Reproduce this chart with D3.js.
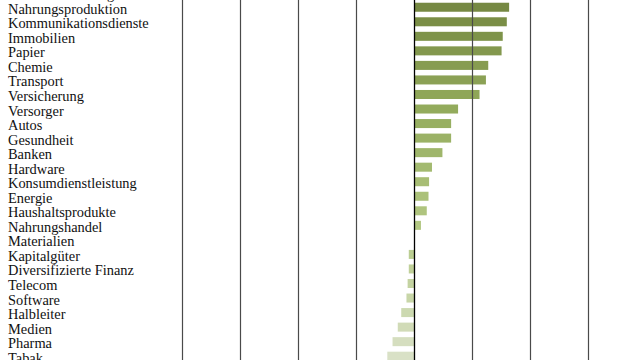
<!DOCTYPE html>
<html><head><meta charset="utf-8">
<script src="https://cdn.jsdelivr.net/npm/d3@7"></script>
<style>html,body{margin:0;padding:0;background:#fff;overflow:hidden}</style>
</head><body>
<svg id="c" width="640" height="360"></svg>
<script>
const categories = ["Freizeitausrüstung","Nahrungsproduktion","Kommunikationsdienste","Immobilien","Papier","Chemie","Transport","Versicherung","Versorger","Autos","Gesundheit","Banken","Hardware","Konsumdienstleistung","Energie","Haushaltsprodukte","Nahrungshandel","Materialien","Kapitalgüter","Diversifizierte Finanz","Telecom","Software","Halbleiter","Medien","Pharma","Tabak"];
const values = [1.70,1.64,1.60,1.53,1.51,1.28,1.24,1.13,0.76,0.64,0.64,0.49,0.31,0.26,0.25,0.22,0.12,0.0,-0.09,-0.09,-0.11,-0.13,-0.22,-0.28,-0.37,-0.46];
const ticks = [-4,-3,-2,-1,0,1,2,3,4];

const svg = d3.select("#c");
const W = 640, H = 360;
const x = d3.scaleLinear().domain([-4,4]).range([182,646]);
const step = 14.54;
const y0 = -7.3 - step/2;
const y = d3.scaleBand().domain(categories).range([y0, y0 + step*categories.length]).paddingInner(0.38).paddingOuter(0.19);
const col = d3.scaleLinear().domain([0,8,16,25]).range(["#72843f","#93ab5c","#b3c883","#d9e1c6"]);

const data = categories.map((c,i)=>({c, v: values[i], i}));

svg.append("g").selectAll("rect").data(data).join("rect")
  .attr("x", d=>x(Math.min(0,d.v)))
  .attr("width", d=>Math.abs(x(d.v)-x(0)))
  .attr("y", d=>y(d.c))
  .attr("height", y.bandwidth())
  .attr("fill", d=>col(d.i));

const ax = svg.append("g").attr("transform","translate(0,0)")
  .call(d3.axisBottom(x).tickValues(ticks).tickSize(H).tickFormat(""));
ax.select(".domain").remove();
ax.selectAll(".tick line").attr("stroke", d=> d===0 ? "#000" : "#4a4a4a").attr("stroke-width", d=> d===0 ? 1.3 : 1.2);

svg.append("g").selectAll("text").data(data).join("text")
  .attr("x", 8)
  .attr("y", d=>y(d.c)+y.bandwidth()/2)
  .attr("dy","0.45em")
  .attr("font-family","'Liberation Serif', serif")
  .attr("font-size", 14.4)
  .attr("fill","#111")
  .text(d=>d.c);
</script>
</body></html>
